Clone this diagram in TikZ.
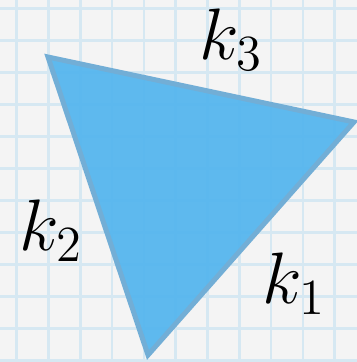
\documentclass[tikz,border=0pt]{standalone}
\usepackage{amsmath}
\usepackage{tikz}
\usetikzlibrary{positioning}
\definecolor{cPaper}{HTML}{F4F4F4}
\definecolor{cGrid}{HTML}{D6E8F2}
\definecolor{cFace}{HTML}{55B6EE}
\definecolor{cEdge}{HTML}{72AED6}
\tikzset{
  gridline/.style={draw=cGrid, line width=0.25mm},
  face/.style    ={fill=cFace, fill opacity=0.94, draw=cEdge, line width=0.5mm, line join=miter},
  lbl/.style     ={inner sep=0pt, font=\fontsize{21}{25}\selectfont},
}

\begin{document}
\begin{tikzpicture}[x=0.1mm, y=-0.1mm]
    \fill[cPaper] (0,0) rectangle (357,362);
    \useasboundingbox (0,0) rectangle (357,362);
    \foreach \i in {0,...,10} \draw[gridline] ({16.7+31.8*\i},0) -- ({16.7+31.8*\i},362);
    \foreach \j in {0,...,11} \draw[gridline] (0,{8.3+32*\j}) -- (357,{8.3+32*\j});
    \coordinate (a) at (48,57);
    \coordinate (b) at (354,122);
    \coordinate (c) at (148,355);
    \draw[face] (a) -- (b) -- (c) -- cycle;
    \node[lbl] (k3) at (231,40) {$k_3$};
    \node[lbl] (k2) at (51,231) {$k_2$};
    \node[lbl] (k1) at (294,284) {$k_1$};
  \end{tikzpicture}
\end{document}
